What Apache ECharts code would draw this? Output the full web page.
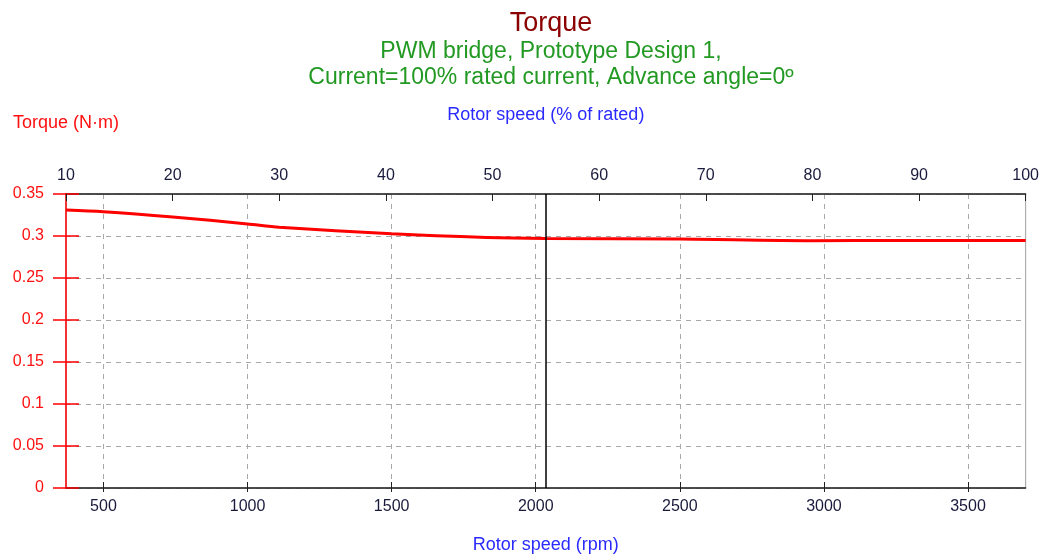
<!DOCTYPE html>
<html>
<head>
<meta charset="utf-8">
<title>Torque</title>
<script src="https://cdn.jsdelivr.net/npm/echarts@6/dist/echarts.min.js"></script>
<style>
  html, body { margin: 0; padding: 0; background: #fff; }
  #chart { width: 1042px; height: 559px; }
</style>
</head>
<body>
<div id="chart"></div>
<script>
// rotor speed (rpm) and torque (N·m)
const speedRpm = [370, 500, 740, 1000, 1110, 1500, 1830, 2035, 2500, 2960, 3260, 3700];
const torque = [0.331, 0.329, 0.3227, 0.3144, 0.3105, 0.3026, 0.2982, 0.297, 0.2963, 0.2943, 0.2947, 0.2947];

// axes
const rpmTicks = [500, 1000, 1500, 2000, 2500, 3000, 3500];
const rpmRange = [370, 3700];
const pctRange = [10, 100];
const torqueRange = [0, 0.35];
const markerRpm = 2035;

const titleText = 'Torque';
const subText = 'PWM bridge, Prototype Design 1,\nCurrent=100% rated current, Advance angle=0º';

const font = 'Arial, "Liberation Sans", sans-serif';
const navy = '#1a1a3c';

var myChart = echarts.init(document.getElementById('chart'));

var option = {
  animation: false,
  title: [
    {
      text: titleText,
      left: 546, top: 5, textAlign: 'center',
      textStyle: { color: '#8b0000', fontSize: 27, fontWeight: 'normal', fontFamily: font }
    },
    {
      text: subText,
      left: 546, top: 34, textAlign: 'center',
      textStyle: { color: '#229922', fontSize: 23, fontWeight: 'normal', fontFamily: font, lineHeight: 26 }
    }
  ],
  grid: {
    left: 66, right: 15, top: 194, bottom: 68,
    show: true, borderColor: '#a0a0a0', borderWidth: 1
  },
  xAxis: [
    {
      type: 'value',
      position: 'bottom',
      min: rpmRange[0], max: rpmRange[1],
      name: 'Rotor speed (rpm)',
      nameLocation: 'middle', nameGap: 48,
      nameTextStyle: { color: '#2a2aff', fontSize: 18, fontFamily: font },
      axisLine: { show: true, lineStyle: { color: '#222', width: 1.5 } },
      axisTick: { show: true, inside: true, length: 6, customValues: rpmTicks, lineStyle: { color: '#222' } },
      axisLabel: { customValues: rpmTicks, margin: 11, color: navy, fontSize: 16, fontFamily: font,
        formatter: v => String(v) },
      splitLine: { show: true, lineStyle: { color: '#a8a8a8', type: [5, 5] } }
    },
    {
      type: 'value',
      position: 'bottom',
      min: rpmRange[0], max: rpmRange[1],
      axisLine: { show: false },
      axisTick: { show: true, inside: false, length: 4, customValues: rpmTicks, lineStyle: { color: '#222' } },
      axisLabel: { show: false },
      splitLine: { show: false }
    },
    {
      type: 'value',
      position: 'top',
      min: pctRange[0], max: pctRange[1], interval: 10,
      name: 'Rotor speed (% of rated)',
      nameLocation: 'middle', nameGap: 70,
      nameTextStyle: { color: '#2a2aff', fontSize: 18, fontFamily: font },
      axisLine: { show: true, lineStyle: { color: '#222', width: 1.5 } },
      axisTick: { show: true, inside: true, length: 7, lineStyle: { color: '#222' } },
      axisLabel: { margin: 10, color: navy, fontSize: 16, fontFamily: font },
      splitLine: { show: false }
    }
  ],
  yAxis: [
    {
      type: 'value',
      position: 'left',
      min: torqueRange[0], max: torqueRange[1], interval: 0.05,
      name: 'Torque (N·m)',
      nameLocation: 'end', nameGap: 62,
      nameTextStyle: { color: '#ff1010', fontSize: 18, fontFamily: font },
      axisLine: { show: true, lineStyle: { color: '#ff0000', width: 1.5 } },
      axisTick: { show: true, inside: false, length: 13, lineStyle: { color: '#ff0000', width: 1.5 } },
      axisLabel: { margin: 22, color: '#ff1010', fontSize: 16, fontFamily: font },
      splitLine: { show: true, lineStyle: { color: '#a8a8a8', type: [5, 5] } }
    },
    {
      type: 'value',
      position: 'left',
      min: torqueRange[0], max: torqueRange[1], interval: 0.05,
      axisLine: { show: false },
      axisTick: { show: true, inside: true, length: 13, lineStyle: { color: '#ff0000', width: 1.5 } },
      axisLabel: { show: false },
      splitLine: { show: false }
    }
  ],
  series: [
    {
      name: 'Torque',
      type: 'line',
      xAxisIndex: 0,
      yAxisIndex: 0,
      data: speedRpm.map((s, i) => [s, torque[i]]),
      smooth: 0.3,
      showSymbol: false,
      lineStyle: { color: '#ff0000', width: 3 },
      markLine: {
        silent: true,
        symbol: 'none',
        label: { show: false },
        lineStyle: { color: '#000', width: 1.5, type: 'solid' },
        data: [{ xAxis: markerRpm }]
      }
    }
  ]
};

myChart.setOption(option);
</script>
</body>
</html>
